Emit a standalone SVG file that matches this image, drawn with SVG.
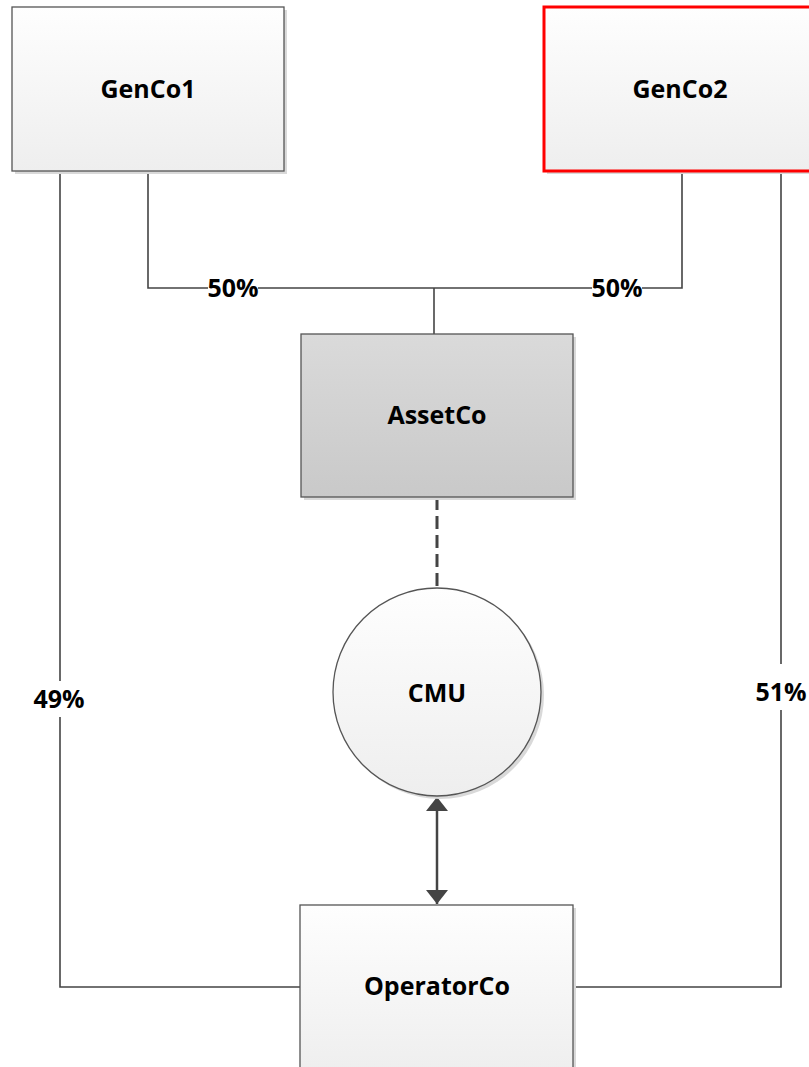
<svg xmlns="http://www.w3.org/2000/svg" width="809" height="1067" viewBox="0 0 809 1067">
<style>
.lbl{font-family:"Open Sans","Liberation Sans",sans-serif;font-weight:bold;font-size:25px;fill:#000;text-anchor:middle}
.box{fill:url(#gw);stroke:#555;stroke-width:1.3}
.shadow{fill:#d9d9d9}
.con{fill:none;stroke:#444;stroke-width:1.6}
</style>
<defs>
<linearGradient id="gw" x1="0" y1="0" x2="0" y2="1"><stop offset="0" stop-color="#fefefe"/><stop offset="1" stop-color="#eeeeee"/></linearGradient>
<linearGradient id="gg" x1="0" y1="0" x2="0" y2="1"><stop offset="0" stop-color="#dadada"/><stop offset="1" stop-color="#c9c9c9"/></linearGradient>
<marker id="ah" viewBox="0 0 14 22" refX="14" refY="11" markerWidth="14" markerHeight="22" markerUnits="userSpaceOnUse" orient="auto"><path d="M0,0 L14,11 L0,22 Z" fill="#444"/></marker>
<marker id="ahs" viewBox="0 0 14 22" refX="0" refY="11" markerWidth="14" markerHeight="22" markerUnits="userSpaceOnUse" orient="auto"><path d="M14,0 L0,11 L14,22 Z" fill="#444"/></marker>
</defs>
<g id="connectors">
<path class="con" d="M60,171 V681 M60,717 V987 H300"/>
<path class="con" d="M148,171 V288 H208 M258,288 H592 M642,288 H682 V171"/>
<path class="con" d="M434,288 V334"/>
<path class="con" d="M781,171 V664 M781,710 V987 H573"/>
<path d="M437,497 V589" fill="none" stroke="#444" stroke-width="3" stroke-dasharray="13,6"/>
<path d="M437,797 V904" fill="none" stroke="#444" stroke-width="2.5" marker-start="url(#ahs)" marker-end="url(#ah)"/>
<text class="lbl" x="233" y="297">50%</text>
<text class="lbl" x="617" y="297">50%</text>
<text class="lbl" x="59" y="708">49%</text>
<text class="lbl" x="781" y="701">51%</text>
</g>
<g id="GenCo1">
<rect class="shadow" x="15" y="10" width="272" height="164"/>
<rect class="box" x="12" y="7" width="272" height="164"/>
<text class="lbl" x="148" y="98">GenCo1</text>
</g>
<g id="GenCo2">
<rect class="shadow" x="547" y="10" width="272" height="164"/>
<rect class="box" x="544" y="7" width="272" height="164" style="stroke:#ff0000;stroke-width:3"/>
<text class="lbl" x="680" y="98">GenCo2</text>
</g>
<g id="AssetCo">
<rect class="shadow" x="304" y="337" width="272" height="163"/>
<rect x="301" y="334" width="272" height="163" fill="url(#gg)" stroke="#555" stroke-width="1.3"/>
<text class="lbl" x="437" y="424">AssetCo</text>
</g>
<g id="CMU">
<circle class="shadow" cx="440" cy="695" r="104"/>
<circle class="box" cx="437" cy="692" r="104"/>
<text class="lbl" x="437" y="702">CMU</text>
</g>
<g id="OperatorCo">
<rect class="shadow" x="303" y="908" width="273" height="170"/>
<rect class="box" x="300" y="905" width="273" height="170"/>
<text class="lbl" x="437" y="995">OperatorCo</text>
</g>
</svg>
